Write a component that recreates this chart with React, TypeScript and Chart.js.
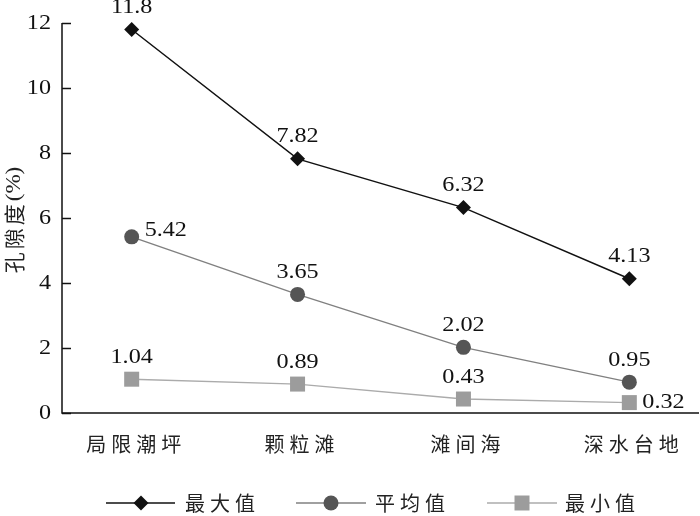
import React, { useEffect, useRef } from "react";
import { Chart, registerables } from "chart.js";

Chart.register(...registerables);

const categories = ["局限潮坪", "颗粒滩", "滩间海", "深水台地"];
const maxValues = [11.8, 7.82, 6.32, 4.13];
const avgValues = [5.42, 3.65, 2.02, 0.95];
const minValues = [1.04, 0.89, 0.43, 0.32];
const seriesNames = ["最大值", "平均值", "最小值"];
const yTicks = [0, 2, 4, 6, 8, 10, 12];
const yTitleCjk = "孔隙度";
const yTitleTail = "(%)";

const NUM_FONT = "21px 'Liberation Serif', 'DejaVu Serif', serif";
const CJK_FONT = "20px 'Noto Sans CJK SC', sans-serif";
const STRETCH = 1.15;

const styles = [
  { line: "#111111", fill: "#111111", shape: "diamond", width: 1.5 },
  { line: "#808080", fill: "#555555", shape: "circle", width: 1.4 },
  { line: "#ababab", fill: "#9c9c9c", shape: "square", width: 1.4 },
];

function drawMarker(ctx: CanvasRenderingContext2D, shape: string, x: number, y: number, fill: string) {
  ctx.save();
  ctx.fillStyle = fill;
  ctx.beginPath();
  if (shape === "diamond") {
    const r = 7.5;
    ctx.moveTo(x, y - r);
    ctx.lineTo(x + r, y);
    ctx.lineTo(x, y + r);
    ctx.lineTo(x - r, y);
    ctx.closePath();
  } else if (shape === "circle") {
    ctx.arc(x, y, 7.5, 0, Math.PI * 2);
  } else {
    ctx.rect(x - 7.5, y - 7.5, 15, 15);
  }
  ctx.fill();
  ctx.restore();
}

function spacedText(ctx: CanvasRenderingContext2D, text: string, x: number, y: number, spacing: number, align: "center" | "left") {
  const chars = Array.from(text);
  const widths = chars.map((c) => ctx.measureText(c).width);
  const total = widths.reduce((a, b) => a + b, 0) + spacing * (chars.length - 1);
  let cx = align === "center" ? x - total / 2 : x;
  ctx.textAlign = "left";
  chars.forEach((c, i) => {
    ctx.fillText(c, cx, y);
    cx += widths[i] + spacing;
  });
  return total;
}

function numText(ctx: CanvasRenderingContext2D, text: string, x: number, y: number, align: "left" | "center" | "right") {
  ctx.save();
  ctx.font = NUM_FONT;
  ctx.fillStyle = "#111";
  ctx.textBaseline = "middle";
  ctx.textAlign = align;
  ctx.translate(x, y);
  ctx.scale(STRETCH, 1);
  ctx.fillText(text, 0, 0);
  ctx.restore();
}

const customPlugin = {
  id: "custom",
  afterDraw(chart: any) {
    const ctx: CanvasRenderingContext2D = chart.ctx;
    const xs = chart.scales.x;
    const ys = chart.scales.y;
    const area = chart.chartArea;
    ctx.save();
    // axes
    ctx.strokeStyle = "#111";
    ctx.lineWidth = 1.5;
    ctx.beginPath();
    ctx.moveTo(area.left, area.top);
    ctx.lineTo(area.left, area.bottom);
    ctx.lineTo(area.right, area.bottom);
    ctx.stroke();
    // y ticks inside
    yTicks.forEach((v) => {
      const py = Math.round(ys.getPixelForValue(v)) + 0.5;
      ctx.strokeStyle = "#111";
      ctx.lineWidth = 1.5;
      ctx.beginPath();
      ctx.moveTo(area.left, py);
      ctx.lineTo(area.left + 9, py);
      ctx.stroke();
      numText(ctx, String(v), area.left - 11, py, "right");
    });
    // y title
    ctx.save();
    ctx.translate(14, 220);
    ctx.rotate(-Math.PI / 2);
    ctx.font = "21px 'Noto Sans CJK SC', sans-serif";
    ctx.fillStyle = "#222";
    ctx.textBaseline = "middle";
    const cjkW = Array.from(yTitleCjk).reduce((a, c) => a + ctx.measureText(c).width, 0) + 3 * 2;
    ctx.font = NUM_FONT;
    const tailW = ctx.measureText(yTitleTail).width * 1.1 + 3;
    const start = -(cjkW + tailW) / 2;
    ctx.font = "21px 'Noto Sans CJK SC', sans-serif";
    spacedText(ctx, yTitleCjk, start, 0, 3, "left");
    ctx.font = NUM_FONT;
    ctx.translate(start + cjkW + 3, 0);
    ctx.scale(1.1, 1);
    ctx.textAlign = "left";
    ctx.fillText(yTitleTail, 0, 0);
    ctx.restore();
    // x labels
    ctx.font = CJK_FONT;
    ctx.fillStyle = "#222";
    ctx.textBaseline = "middle";
    categories.forEach((c, i) => {
      spacedText(ctx, c, xs.getPixelForValue(i) + 2, 444, 5, "center");
    });
    // markers and data labels
    const all = [maxValues, avgValues, minValues];
    all.forEach((vals, si) => {
      vals.forEach((v, i) => {
        const px = xs.getPixelForValue(i);
        const py = ys.getPixelForValue(v);
        drawMarker(ctx, styles[si].shape, px, py, styles[si].fill);
        if ((si === 1 && i === 0) || (si === 2 && i === 3)) {
          numText(ctx, String(v), px + 13, py - (si === 1 ? 6 : 0), "left");
        } else {
          numText(ctx, String(v), px, py - 22, "center");
        }
      });
    });
    // legend
    const legendY = 503;
    const items = [
      { x0: 106, x1: 175, mx: 141, tx: 185 },
      { x0: 296, x1: 366, mx: 331, tx: 375 },
      { x0: 487, x1: 557, mx: 522, tx: 565 },
    ];
    items.forEach((it, si) => {
      ctx.strokeStyle = styles[si].line;
      ctx.lineWidth = styles[si].width;
      ctx.beginPath();
      ctx.moveTo(it.x0, legendY);
      ctx.lineTo(it.x1, legendY);
      ctx.stroke();
      drawMarker(ctx, styles[si].shape, it.mx, legendY, styles[si].fill);
      ctx.font = CJK_FONT;
      ctx.fillStyle = "#222";
      ctx.textBaseline = "middle";
      spacedText(ctx, seriesNames[si], it.tx, legendY, 5, "left");
    });
    ctx.restore();
  },
};

export default function App() {
  const ref = useRef<HTMLCanvasElement | null>(null);
  useEffect(() => {
    document.body.style.margin = "0";
    if (!ref.current) return;
    const mk = (vals: number[], si: number, label: string) => ({
      label,
      data: vals.map((v, i) => ({ x: i, y: v })),
      borderColor: styles[si].line,
      borderWidth: styles[si].width,
      pointRadius: 0,
      tension: 0,
      fill: false,
    });
    const chart = new Chart(ref.current, {
      type: "line",
      data: {
        datasets: [
          mk(maxValues, 0, seriesNames[0]),
          mk(avgValues, 1, seriesNames[1]),
          mk(minValues, 2, seriesNames[2]),
        ],
      },
      options: {
        animation: false,
        responsive: false,
        maintainAspectRatio: false,
        layout: { padding: { top: 23, right: 1, left: 0, bottom: 0 } },
        plugins: { legend: { display: false }, tooltip: { enabled: false } },
        scales: {
          x: {
            type: "linear",
            min: -0.42,
            max: 3.42,
            grid: { display: false, drawTicks: false },
            border: { display: false },
            ticks: { display: false },
            afterFit: (s: any) => { s.height = 103; },
          },
          y: {
            type: "linear",
            min: 0,
            max: 12,
            grid: { display: false, drawTicks: false },
            border: { display: false },
            ticks: { display: false, stepSize: 2 },
            afterFit: (s: any) => { s.width = 62; },
          },
        },
      } as any,
      plugins: [customPlugin],
    });
    return () => chart.destroy();
  }, []);
  return (
    <div style={{ width: 700, height: 516 }}>
      <canvas ref={ref} width={700} height={516} style={{ display: "block" }} />
    </div>
  );
}
